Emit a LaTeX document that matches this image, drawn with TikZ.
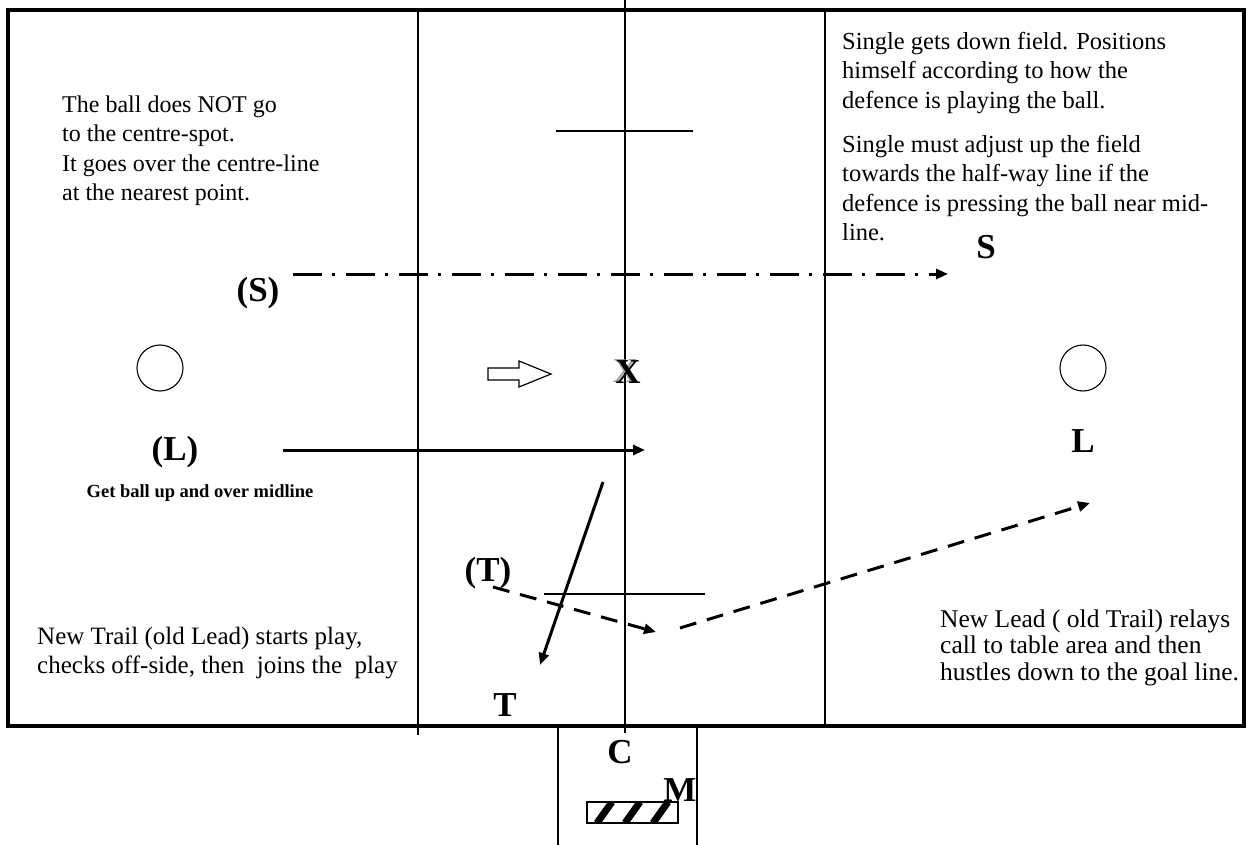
\documentclass[tikz,border=0pt]{standalone}
\usepackage{fontspec}
\setmainfont{Liberation Serif}
\usetikzlibrary{arrows.meta}

\begin{document}
\begin{tikzpicture}[
  x=1pt,y=-1pt,
  frame/.style={line width=3.4pt},
  court/.style={line width=1.5pt},
  tag/.style={font=\bfseries\fontsize{35}{38}\selectfont,inner sep=0pt},
  note/.style={align=left,anchor=north west,inner sep=0pt},
  run/.style={line width=3pt,-{Triangle[length=12pt,width=10pt]}},
  dashrun/.style={run,dash pattern=on 17pt off 11pt},
  dotrun/.style={run,dash pattern=on 29pt off 10pt on 3pt off 11pt}
]
\useasboundingbox (0,0) rectangle (1247,845);

% court
\draw[frame] (8,10) rectangle (1244,726);
\draw[court] (418,10) -- (418,735);
\draw[court] (625,0) -- (625,733);
\draw[court] (825,10) -- (825,726);
\draw[court] (556,131) -- (693,131);
\draw[court] (544,594) -- (705,594);
\draw[court] (558,726) -- (558,845);
\draw[court] (697,726) -- (697,845);
\draw[line width=1.1pt] (160,368) circle (23);
\draw[line width=1.1pt] (1083,368) circle (23);

% table
\draw[line width=1.2pt] (587,802) rectangle (678,823);
\begin{scope}
  \clip (587,802) rectangle (678,823);
  \foreach \s in {569,597,625,653,681}
    \draw[line width=7pt] (\s,823) -- (\s+15,802);
\end{scope}

% notes
\node[note,font=\fontsize{24}{29.5}\selectfont] (ballnote) at (62,95.5)
  {The ball does NOT go\\to the centre-spot.\\It goes over the centre-line\\at the nearest point.};
\node[note,font=\fontsize{24.5}{29.3}\selectfont] (singlenote) at (842,32)
  {Single gets down field. Positions\\himself according to how the\\defence is playing the ball.};
\node[note,font=\fontsize{24.5}{29.3}\selectfont] (adjustnote) at (842,135)
  {Single must adjust up the field\\towards the half-way line if the\\defence is pressing the ball near mid-\\line.};
\node[note,font=\fontsize{25}{29}\selectfont] (trailnote) at (37,627)
  {New Trail (old Lead) starts play,\\checks off-side, then\ \ joins the\ \ play};
\node[note,font=\fontsize{25.5}{26.5}\selectfont] (leadnote) at (940,609.5)
  {New Lead ( old Trail) relays\\call to table area and then\\hustles down to the goal line.};

% labels
\node[tag] (sOld) at (258,293) {(S)};
\node[tag] (sNew) at (986,247) {S};
\node[tag] (lOld) at (175,452) {(L)};
\node[tag] (lNew) at (1083,441) {L};
\node[tag] (tOld) at (488,573) {(T)};
\node[tag] (tNew) at (505,705) {T};
\node[tag] (cTag) at (620,752) {C};
\node[tag] (mTag) at (680,790) {M};
\node[tag,text=black!40] at (625.5,371) {X};
\node[tag] (xTag) at (628,372) {X};
\node[font=\bfseries\fontsize{18.5}{22}\selectfont,inner sep=0pt] (midnote) at (200,493)
  {Get ball up and over midline};

% play arrow
\draw[line width=1.2pt] (488,368) -- (519,368) -- (519,361) -- (551,374)
  -- (519,387) -- (519,380) -- (488,380) -- cycle;

% runs
\coordinate (sA) at (293,274);
\coordinate (sB) at (948,274);
\coordinate (lA) at (283,450);
\coordinate (lB) at (645,450);
\coordinate (tA) at (603,482);
\coordinate (tB) at (540,665);
\coordinate (dA) at (493,587);
\coordinate (dB) at (656,632);
\coordinate (eA) at (680,628);
\coordinate (eB) at (1090,503);
\draw[dotrun] (sA) -- (sB);
\draw[run] (lA) -- (lB);
\draw[run] (tA) -- (tB);
\draw[dashrun] (dA) -- (dB);
\draw[dashrun] (eA) -- (eB);
\end{tikzpicture}
\end{document}
